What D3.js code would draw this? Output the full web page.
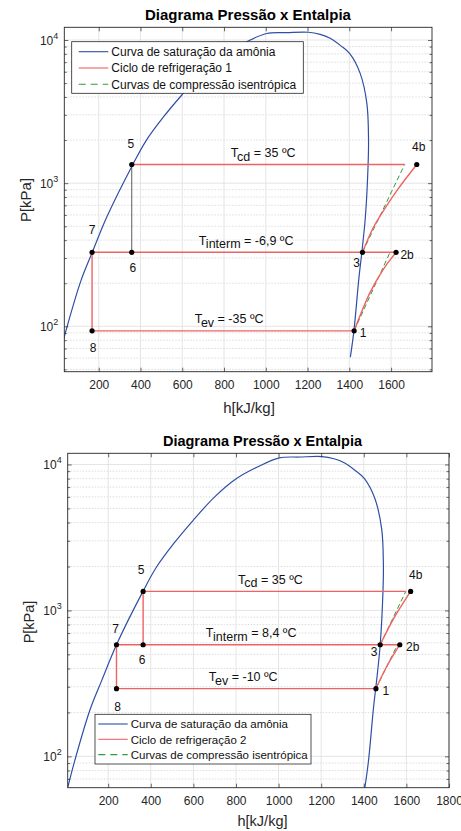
<!DOCTYPE html>
<html>
<head>
<meta charset="utf-8">
<script src="https://cdn.jsdelivr.net/npm/d3@7"></script>
<style>
  body { margin: 0; background: #fff; }
  text { font-family: "Liberation Sans", Arial, sans-serif; fill: #262626; }
</style>
</head>
<body>
<div id="chart"></div>
<script>
// saturation curve of ammonia, h [kJ/kg] and P [kPa]
var satH = [10, 40, 114, 169, 239, 364, 427, 510, 598, 700, 801, 900, 1004, 1100, 1204, 1260, 1308, 1360, 1403, 1452, 1484, 1492, 1490, 1477, 1460, 1446, 1422, 1405];
var satP = [61, 90, 207, 329, 582, 1356, 1983, 2900, 4130, 6000, 7980, 9600, 11100, 11250, 11330, 10950, 10280, 9100, 8000, 5850, 3610, 2050, 1350, 582, 329, 218, 93, 61];

// cycle points, order: 1, 2b, 3, 4b, 5, 6, 7, 8
var pointNames = ["1", "2b", "3", "4b", "5", "6", "7", "8"];
var c1H = [1423, 1624, 1463, 1723, 358, 358, 168, 168];
var c1P = [93, 329, 329, 1350, 1350, 329, 329, 93];
var c2H = [1457, 1569, 1477, 1620, 364, 364, 239, 239];
var c2P = [291, 582, 582, 1350, 1350, 582, 582, 291];

// real compression 1->2b and 3->4b
var c1LowH = [1423, 1499, 1563, 1611, 1624];
var c1LowP = [93, 172, 250, 311, 329];
var c1HighH = [1463, 1515, 1563, 1627, 1723];
var c1HighP = [329, 490, 641, 884, 1350];
var c2LowH = [1457, 1507, 1569];
var c2LowP = [291, 411, 582];
var c2HighH = [1477, 1542, 1620];
var c2HighP = [582, 889, 1350];

// isentropic end points 2s and 4s
var c1IsoH = [1595, 1665];
var c2IsoH = [1558, 1597];

// temperature labels
var tempNames = ["ev", "interm", "cd"];
var c1Temps = ["-35", "-6,9", "35"];
var c2Temps = ["-10", "8,4", "35"];

var xTicks1 = [200, 400, 600, 800, 1000, 1200, 1400, 1600];
var xTicks2 = [200, 400, 600, 800, 1000, 1200, 1400, 1600, 1800];
var yTicks = [100, 1000, 10000];

var legendNames1 = ["Curva de saturação da amônia", "Ciclo de refrigeração 1", "Curvas de compressão isentrópica"];
var legendNames2 = ["Curva de saturação da amônia", "Ciclo de refrigeração 2", "Curvas de compressão isentrópica"];

var blue = "#2f4fa7", red = "#f06262", green = "#2e9c40";

var svg = d3.select("#chart").append("svg")
  .attr("width", 461)
  .attr("height", 831);
svg.append("rect").attr("width", 461).attr("height", 831).attr("fill", "#fff");

function panel(cfg) {
  var x = d3.scaleLinear().domain(cfg.xDomain).range([cfg.left, cfg.right]);
  var y = d3.scaleLog().domain(cfg.yDomain).range([cfg.bottom, cfg.top]);
  var g = svg.append("g");

  // minor y values
  var minor = [];
  [10, 100, 1000, 10000].forEach(function(d) {
    for (var m = 2; m < 10; m++) {
      var v = m * d;
      if (v > cfg.yDomain[0] && v < cfg.yDomain[1]) minor.push(v);
    }
  });

  // grid
  g.selectAll(".minorgrid").data(minor).enter().append("line")
    .attr("x1", cfg.left).attr("x2", cfg.right)
    .attr("y1", function(d) { return y(d); }).attr("y2", function(d) { return y(d); })
    .attr("stroke", "#cfcfcf").attr("stroke-width", 0.7).attr("stroke-dasharray", "1.5,1.5");
  g.selectAll(".xgrid").data(cfg.xTicks).enter().append("line")
    .attr("x1", function(d) { return x(d); }).attr("x2", function(d) { return x(d); })
    .attr("y1", cfg.top).attr("y2", cfg.bottom)
    .attr("stroke", "#dedede").attr("stroke-width", 0.8);
  g.selectAll(".ygrid").data(yTicks).enter().append("line")
    .attr("x1", cfg.left).attr("x2", cfg.right)
    .attr("y1", function(d) { return y(d); }).attr("y2", function(d) { return y(d); })
    .attr("stroke", "#dedede").attr("stroke-width", 0.8);

  // clip
  var clipId = "clip" + cfg.id;
  svg.append("clipPath").attr("id", clipId).append("rect")
    .attr("x", cfg.left).attr("y", cfg.top)
    .attr("width", cfg.right - cfg.left).attr("height", cfg.bottom - cfg.top);
  var plot = g.append("g").attr("clip-path", "url(#" + clipId + ")");

  var line = d3.line()
    .x(function(d) { return x(d[0]); })
    .y(function(d) { return y(d[1]); });
  var smooth = d3.line()
    .x(function(d) { return x(d[0]); })
    .y(function(d) { return y(d[1]); })
    .curve(d3.curveCatmullRom.alpha(0.5));

  // saturation curve
  plot.append("path")
    .datum(d3.zip(satH, satP))
    .attr("fill", "none").attr("stroke", blue).attr("stroke-width", 1.2)
    .attr("d", smooth);

  var H = cfg.H, P = cfg.P;
  function pt(i) { return [H[i], P[i]]; }

  // isentropic compression (dashed)
  var iso = [
    [pt(0), [cfg.isoH[0], P[1]]],
    [pt(2), [cfg.isoH[1], P[3]]]
  ];
  plot.selectAll(".iso").data(iso).enter().append("path")
    .attr("fill", "none").attr("stroke", green).attr("stroke-width", 1)
    .attr("stroke-dasharray", "5,3")
    .attr("d", line);

  // refrigeration cycle
  var segs = [
    [pt(7), pt(0)],
    [pt(6), pt(1)],
    [pt(4), [cfg.isoH[1], P[3]]],
    [pt(6), pt(7)]
  ];
  if (cfg.redVertical) segs.push([pt(4), pt(5)]);
  plot.selectAll(".seg").data(segs).enter().append("path")
    .attr("fill", "none").attr("stroke", red).attr("stroke-width", 1.4)
    .attr("d", line);
  if (!cfg.redVertical) {
    plot.append("path").datum([pt(4), pt(5)])
      .attr("fill", "none").attr("stroke", "#333").attr("stroke-width", 0.8)
      .attr("d", line);
  }
  plot.selectAll(".comp").data([d3.zip(cfg.lowH, cfg.lowP), d3.zip(cfg.highH, cfg.highP)])
    .enter().append("path")
    .attr("fill", "none").attr("stroke", red).attr("stroke-width", 1.4)
    .attr("d", smooth);

  // points
  g.selectAll(".dot").data(d3.range(H.length)).enter().append("circle")
    .attr("cx", function(i) { return x(H[i]); })
    .attr("cy", function(i) { return y(P[i]); })
    .attr("r", 2.6).attr("fill", "#000");
  g.selectAll(".plab").data(d3.range(H.length)).enter().append("text")
    .attr("x", function(i) { return x(H[i]) + cfg.labOff[i][0]; })
    .attr("y", function(i) { return y(P[i]) + cfg.labOff[i][1]; })
    .attr("text-anchor", "middle").attr("dominant-baseline", "central")
    .style("font-size", "12px").style("fill", "#111")
    .text(function(i) { return pointNames[i]; });

  // temperature labels
  var spans = [
    [x(H[7]), x(H[0]), P[0]],
    [x(H[6]), x(H[1]), P[1]],
    [x(H[4]), x(cfg.isoH[1]), P[3]]
  ];
  spans.forEach(function(s, k) {
    var t = g.append("text")
      .attr("x", (s[0] + s[1]) / 2 + cfg.tempDx[k])
      .attr("y", y(s[2]) - 7.5)
      .attr("text-anchor", "middle")
      .style("font-size", "12.5px").style("fill", "#111");
    t.append("tspan").text("T");
    t.append("tspan").attr("dy", 3.5).text(tempNames[k]);
    t.append("tspan").attr("dy", -3.5).text(" = " + cfg.temps[k] + " ºC");
  });

  // axes
  var ax = g.append("g").attr("transform", "translate(0," + cfg.bottom + ")")
    .call(d3.axisBottom(x).tickValues(cfg.xTicks).tickSize(-4).tickSizeOuter(0).tickPadding(9).tickFormat(d3.format("d")));
  g.append("g").attr("transform", "translate(0," + cfg.top + ")")
    .call(d3.axisTop(x).tickValues(cfg.xTicks).tickSize(-4).tickSizeOuter(0).tickFormat(""));
  g.append("g").attr("transform", "translate(" + cfg.left + ",0)")
    .call(d3.axisLeft(y).tickValues(yTicks).tickSize(-4).tickSizeOuter(0).tickFormat(""));
  g.append("g").attr("transform", "translate(" + cfg.right + ",0)")
    .call(d3.axisRight(y).tickValues(yTicks).tickSize(-4).tickSizeOuter(0).tickFormat(""));
  g.append("g").attr("transform", "translate(" + cfg.left + ",0)")
    .call(d3.axisLeft(y).tickValues(minor).tickSize(-2.5).tickSizeOuter(0).tickFormat(""));
  g.append("g").attr("transform", "translate(" + cfg.right + ",0)")
    .call(d3.axisRight(y).tickValues(minor).tickSize(-2.5).tickSizeOuter(0).tickFormat(""));
  g.selectAll(".domain").remove();
  g.selectAll(".tick line").attr("stroke", "#262626").attr("stroke-width", 0.7);
  ax.selectAll("text").style("font-size", "12px").style("font-family", "Liberation Sans, Arial, sans-serif").attr("fill", "#262626");

  // y tick labels 10^n
  yTicks.forEach(function(v) {
    var t = g.append("text")
      .attr("x", cfg.left - 6).attr("y", y(v) + 5)
      .attr("text-anchor", "end").style("font-size", "12px");
    t.append("tspan").text("10");
    t.append("tspan").attr("dy", -6).style("font-size", "9px").text(Math.round(Math.log10(v)));
  });

  // box
  g.append("rect")
    .attr("x", cfg.left).attr("y", cfg.top)
    .attr("width", cfg.right - cfg.left).attr("height", cfg.bottom - cfg.top)
    .attr("fill", "none").attr("stroke", "#262626").attr("stroke-width", 0.9);

  // title and labels
  g.append("text")
    .attr("x", cfg.titleX).attr("y", cfg.titleY)
    .attr("text-anchor", "middle")
    .style("font-size", cfg.titleSize).style("font-weight", "bold").style("fill", "#000")
    .text("Diagrama Pressão x Entalpia");
  g.append("text")
    .attr("x", cfg.xLabX).attr("y", cfg.xLabY)
    .attr("text-anchor", "middle").style("font-size", cfg.labSize)
    .text("h[kJ/kg]");
  g.append("text")
    .attr("transform", "translate(" + cfg.yLabX + "," + cfg.yLabY + ")rotate(-90)")
    .attr("text-anchor", "middle").style("font-size", cfg.labSize)
    .text("P[kPa]");

  // legend
  var L = cfg.legend;
  var lg = g.append("g");
  lg.append("rect")
    .attr("x", L.x).attr("y", L.y).attr("width", L.w).attr("height", L.h)
    .attr("fill", "#fff").attr("stroke", "#262626").attr("stroke-width", 0.8);
  var styles = [
    {c: blue, dash: null},
    {c: red, dash: null},
    {c: green, dash: "7,5"}
  ];
  cfg.legendNames.forEach(function(name, k) {
    var yy = L.y + L.row0 + k * L.dy;
    lg.append("line")
      .attr("x1", L.x + L.l1).attr("x2", L.x + L.l2)
      .attr("y1", yy).attr("y2", yy)
      .attr("stroke", styles[k].c).attr("stroke-width", 1.1)
      .attr("stroke-dasharray", styles[k].dash);
    lg.append("text")
      .attr("x", L.x + L.l2 + 3).attr("y", yy + 4.2)
      .style("font-size", L.font).style("fill", "#111")
      .text(name);
  });
}

panel({
  id: 1,
  xDomain: [35, 1796], yDomain: [48.2, 12266],
  left: 64.3, right: 432, top: 27.3, bottom: 371.7,
  xTicks: xTicks1,
  H: c1H, P: c1P,
  lowH: c1LowH, lowP: c1LowP, highH: c1HighH, highP: c1HighP,
  isoH: c1IsoH, temps: c1Temps,
  redVertical: false,
  labOff: [[9, 2], [11, 3], [-6, 11], [2, -18], [-1, -21], [1, 16], [0, -22], [1, 17]],
  tempDx: [6, 2, -5],
  titleX: 248, titleY: 20, titleSize: "15px",
  xLabX: 249, xLabY: 413, labSize: "15px",
  yLabX: 31, yLabY: 200,
  legend: {x: 71.7, y: 41.7, w: 231.6, h: 51.6, row0: 10, dy: 16.3, l1: 7, l2: 36.6, font: "12px"},
  legendNames: legendNames1
});

panel({
  id: 2,
  xDomain: [10, 1800], yDomain: [61, 11930],
  left: 67.7, right: 449, top: 453.3, bottom: 787.7,
  xTicks: xTicks2,
  H: c2H, P: c2P,
  lowH: c2LowH, lowP: c2LowP, highH: c2HighH, highP: c2HighP,
  isoH: c2IsoH, temps: c2Temps,
  redVertical: true,
  labOff: [[10, 2], [13, 2], [-6, 7], [5, -16], [-2, -21], [-1, 15], [-1, -16], [1, 18]],
  tempDx: [-3, -7, -4],
  titleX: 262.5, titleY: 446, titleSize: "14.5px",
  xLabX: 262.5, xLabY: 826, labSize: "14.5px",
  yLabX: 34, yLabY: 622,
  legend: {x: 95, y: 714.3, w: 216, h: 49.7, row0: 9.7, dy: 15.3, l1: 3.3, l2: 32.7, font: "11.5px"},
  legendNames: legendNames2
});
</script>
</body>
</html>
